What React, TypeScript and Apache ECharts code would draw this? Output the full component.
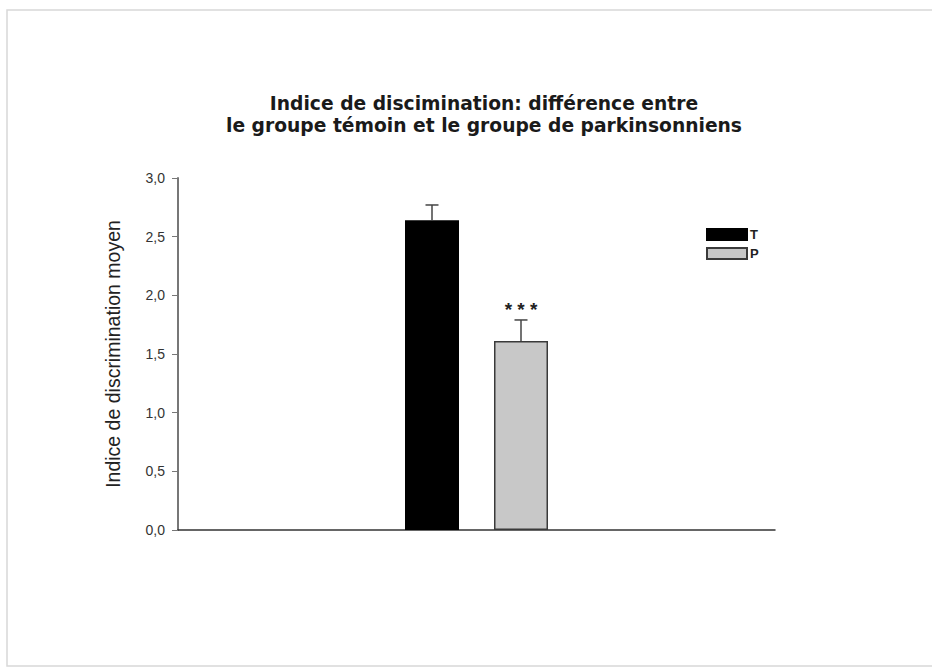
import React, { useEffect, useRef } from "react";
import * as echarts from "echarts";

const groups = ["T", "P"];
const means = [2.64, 1.61];
const errors = [0.13, 0.18];
const significance = ["", "* * *"];
const yTicks = ["0,0", "0,5", "1,0", "1,5", "2,0", "2,5", "3,0"];
const titleLines = [
  "Indice de discimination: différence entre",
  "le groupe témoin et le groupe de parkinsonniens",
];
const yAxisName = "Indice de discrimination moyen";

const BAR_W = 54;
const GAP = 35;

export default function App() {
  const ref = useRef<HTMLDivElement>(null);
  useEffect(() => {
    if (!ref.current) return;
    const chart = echarts.init(ref.current, null, { renderer: "svg" });
    const offsets = [-(BAR_W + GAP) / 2, (BAR_W + GAP) / 2];
    const colors = ["#000000", "#c8c8c8"];
    const borders = ["#000000", "#3a3a3a"];
    chart.setOption({
      animation: false,
      backgroundColor: "#ffffff",
      title: {
        text: titleLines.join("\n"),
        left: 479,
        top: 87,
        textAlign: "center",
        textStyle: {
          fontFamily: "DejaVu Sans, sans-serif",
          fontSize: 18.7,
          fontWeight: "bold",
          color: "#1a1a1a",
          lineHeight: 22,
        },
      },
      legend: {
        orient: "vertical",
        left: 701,
        top: 223,
        itemWidth: 40,
        itemHeight: 11,
        itemGap: 6,
        icon: "rect",
        data: groups,
        textStyle: {
          fontFamily: "Liberation Sans, Arial, sans-serif",
          fontSize: 13,
          fontWeight: "bold",
          color: "#222",
          padding: [0, 0, 0, -2],
        },
        selectedMode: false,
      },
      grid: { left: 178, right: 157, top: 178, bottom: 138 },
      xAxis: {
        type: "category",
        data: [""],
        axisLine: { lineStyle: { color: "#333", width: 1.5 } },
        axisTick: { show: false },
        axisLabel: { show: false },
      },
      yAxis: {
        type: "value",
        min: 0,
        max: 3,
        interval: 0.5,
        name: yAxisName,
        nameLocation: "middle",
        nameGap: 55,
        nameTextStyle: {
          fontFamily: "Liberation Sans, Arial, sans-serif",
          fontSize: 19.5,
          color: "#222",
        },
        axisLine: { show: true, lineStyle: { color: "#777", width: 2 } },
        axisTick: { show: true, length: 6, lineStyle: { color: "#777" } },
        splitLine: { show: false },
        axisLabel: {
          margin: 13,
          fontFamily: "Liberation Sans, Arial, sans-serif",
          fontSize: 14,
          color: "#333",
          formatter: (v: number) => yTicks[Math.round(v / 0.5)],
        },
      },
      series: [
        ...groups.map((g, i) => ({
          name: g,
          type: "bar",
          data: [means[i]],
          barWidth: BAR_W,
          barGap: `${(GAP / BAR_W) * 100}%`,
          itemStyle: { color: colors[i], borderColor: borders[i], borderWidth: 1.5 },
        })),
        {
          type: "custom",
          data: groups.map((_, i) => [0, means[i], means[i] + errors[i], i]),
          renderItem: (params: any, api: any) => {
            const idx = api.value(3);
            const base = api.coord([0, api.value(1)]);
            const top = api.coord([0, api.value(2)]);
            const x = base[0] + offsets[idx];
            const children: any[] = [
              {
                type: "line",
                shape: { x1: x, y1: base[1], x2: x, y2: top[1] },
                style: { stroke: "#444", lineWidth: 1.5 },
              },
              {
                type: "line",
                shape: { x1: x - 6.5, y1: top[1], x2: x + 6.5, y2: top[1] },
                style: { stroke: "#444", lineWidth: 1.5 },
              },
            ];
            if (significance[idx]) {
              children.push({
                type: "text",
                x: x,
                y: top[1] - 10,
                style: {
                  text: significance[idx],
                  textAlign: "center",
                  textVerticalAlign: "middle",
                  font: "bold 19px Liberation Sans, Arial, sans-serif",
                  fill: "#222",
                },
              });
            }
            return { type: "group", children };
          },
          z: 5,
        },
      ],
      graphic: [
        {
          type: "rect",
          shape: { x: 7, y: 10, width: 940, height: 656 },
          style: { fill: "none", stroke: "#d8d8d8", lineWidth: 1.5 },
          silent: true,
        },
      ],
    });
    return () => chart.dispose();
  }, []);
  return (
    <div
      ref={ref}
      style={{ position: "fixed", left: 0, top: 0, width: 932, height: 668 }}
    />
  );
}
